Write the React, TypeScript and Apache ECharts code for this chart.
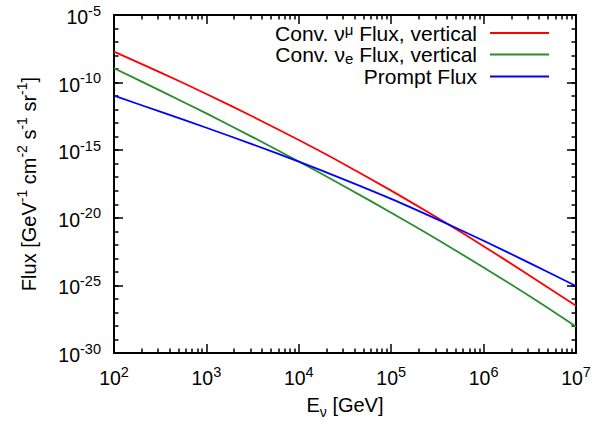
import React, { useEffect, useRef } from 'react';
import * as echarts from 'echarts';

// log10 of neutrino energy [GeV]
const logEnergy = [2, 2.5, 3, 3.5, 4, 4.5, 5, 5.5, 6, 6.5, 7];
// log10 of flux [GeV^-1 cm^-2 s^-1 sr^-1]
const convNuMuLogFlux = [-7.71, -9.24, -10.84, -12.51, -14.25, -16.07, -17.99, -20.0, -22.1, -24.28, -26.5];
const convNuELogFlux = [-8.94, -10.59, -12.28, -14.03, -15.84, -17.7, -19.62, -21.61, -23.67, -25.81, -28.05];
const promptLogFlux = [-10.97, -12.15, -13.34, -14.57, -15.85, -17.19, -18.6, -20.12, -21.7, -23.35, -25.04];

const seriesNames = ['Conv. numu Flux, vertical', 'Conv. nue Flux, vertical', 'Prompt Flux'];
const seriesColors = ['#ff0000', '#2a8b2a', '#0000ff'];

// tick positions
const xMajorExp = [2, 3, 4, 5, 6, 7];
const yMajorExp = [-30, -25, -20, -15, -10, -5];
const xMinorMult = [2, 3, 4, 5, 6, 7, 8, 9];

const FONT = '"Liberation Sans", Arial, Helvetica, sans-serif';

const xMajorTicks = xMajorExp.map((e) => Math.pow(10, e));
const yMajorTicks = yMajorExp.map((e) => Math.pow(10, e));
const xMinorTicks: number[] = [];
for (let e = xMajorExp[0]; e < xMajorExp[xMajorExp.length - 1]; e++) {
  xMinorMult.forEach((m) => xMinorTicks.push(m * Math.pow(10, e)));
}
const yMinorTicks: number[] = [];
for (let e = yMajorExp[0]; e <= yMajorExp[yMajorExp.length - 1]; e++) {
  yMinorTicks.push(Math.pow(10, e));
}

const tickRich = {
  b: { fontSize: 19.5, fontFamily: FONT, color: '#000', lineHeight: 24, verticalAlign: 'bottom' },
  s: { fontSize: 14.5, fontFamily: FONT, color: '#000', lineHeight: 10, verticalAlign: 'top' },
};

const powLabel = (v: number) => {
  const e = Math.round(Math.log10(v));
  return `{b|10}{s|${e}}`;
};

const legendLabels: Record<string, string> = {
  [seriesNames[0]]: '{b|Conv. ν}{m|μ}{b| Flux, vertical}',
  [seriesNames[1]]: '{b|Conv. ν}{e|e}{b| Flux, vertical}',
  [seriesNames[2]]: '{b|Prompt Flux}',
};
const legendTops = [22, 44, 66];

function baseAxis(extra: any) {
  return {
    type: 'log',
    logBase: 10,
    splitLine: { show: false },
    minorTick: { show: false },
    minorSplitLine: { show: false },
    ...extra,
  };
}

function majorAxis(position: string, ticks: number[], extra: any = {}) {
  return baseAxis({
    position,
    axisLine: { show: true, onZero: false, lineStyle: { color: '#000', width: 2 } },
    axisTick: { show: true, inside: true, length: 9, lineStyle: { color: '#000', width: 1.5 }, customValues: ticks },
    axisLabel: { show: false },
    ...extra,
  });
}

function minorAxis(position: string, ticks: number[], extra: any = {}) {
  return baseAxis({
    position,
    axisLine: { show: false, onZero: false },
    axisTick: { show: true, inside: true, length: 4.5, lineStyle: { color: '#000', width: 1.5 }, customValues: ticks },
    axisLabel: { show: false },
    ...extra,
  });
}

const xRange = { min: xMajorTicks[0], max: xMajorTicks[xMajorTicks.length - 1] };
const yRange = { min: yMajorTicks[0], max: yMajorTicks[yMajorTicks.length - 1] };

const legendRich = {
  b: { fontSize: 21, fontFamily: FONT, color: '#000', lineHeight: 22, verticalAlign: 'middle' },
  m: { fontSize: 15, fontFamily: FONT, color: '#000', lineHeight: 15, verticalAlign: 'top' },
  e: { fontSize: 15, fontFamily: FONT, color: '#000', lineHeight: 8, verticalAlign: 'bottom' },
};

const option: any = {
  animation: false,
  backgroundColor: '#fff',
  grid: { left: 114, right: 16, top: 15, bottom: 71, containLabel: false, outerBoundsMode: 'none' },
  legend: seriesNames.map((name, i) => ({
    orient: 'vertical',
    right: 43,
    top: legendTops[i],
    align: 'right',
    padding: 0,
    itemGap: 0,
    itemWidth: 59,
    itemHeight: 2,
    icon: 'rect',
    selectedMode: false,
    data: [name],
    formatter: (n: string) => legendLabels[n],
    textStyle: {
      color: '#000',
      fontFamily: FONT,
      fontSize: 21,
      padding: [0, 8, 0, 0],
      rich: legendRich,
    },
  })),
  xAxis: [
    majorAxis('bottom', xMajorTicks, {
      ...xRange,
      axisLabel: { show: true, margin: 11, customValues: xMajorTicks, formatter: powLabel, rich: tickRich, color: '#000' },
      name: '{b|E}{u|ν}{b| [GeV]}',
      nameLocation: 'middle',
      nameGap: 42,
      nameTextStyle: {
        color: '#000',
        fontFamily: FONT,
        fontSize: 20,
        rich: {
          b: { fontSize: 20, fontFamily: FONT, color: '#000', lineHeight: 24, verticalAlign: 'top' },
          u: { fontSize: 14, fontFamily: FONT, color: '#000', lineHeight: 14, verticalAlign: 'bottom' },
        },
      },
    }),
    majorAxis('top', xMajorTicks, { ...xRange }),
    minorAxis('bottom', xMinorTicks, { ...xRange }),
    minorAxis('top', xMinorTicks, { ...xRange }),
  ],
  yAxis: [
    majorAxis('left', yMajorTicks, {
      ...yRange,
      axisLabel: { show: true, margin: 13, customValues: yMajorTicks, formatter: powLabel, rich: tickRich, color: '#000' },
      name: '{b|Flux [GeV}{s|-1}{b| cm}{s|-2}{b| s}{s|-1}{b| sr}{s|-1}{b|]}',
      nameLocation: 'middle',
      nameRotate: 90,
      nameGap: 75,
      nameTextStyle: {
        color: '#000',
        fontFamily: FONT,
        fontSize: 20,
        rich: {
          b: { fontSize: 20, fontFamily: FONT, color: '#000', lineHeight: 24, verticalAlign: 'bottom' },
          s: { fontSize: 14, fontFamily: FONT, color: '#000', lineHeight: 10, verticalAlign: 'top' },
        },
      },
    }),
    majorAxis('right', yMajorTicks, { ...yRange }),
    minorAxis('left', yMinorTicks, { ...yRange }),
    minorAxis('right', yMinorTicks, { ...yRange }),
  ],
  series: [convNuMuLogFlux, convNuELogFlux, promptLogFlux].map((vals, i) => ({
    type: 'line',
    name: seriesNames[i],
    xAxisIndex: 0,
    yAxisIndex: 0,
    symbol: 'none',
    showSymbol: false,
    smooth: 0.3,
    clip: true,
    color: seriesColors[i],
    lineStyle: { color: seriesColors[i], width: 1.8 },
    data: logEnergy.map((e, j) => [Math.pow(10, e), Math.pow(10, vals[j])]),
  })),
};

export default function App() {
  const ref = useRef<HTMLDivElement>(null);
  useEffect(() => {
    const chart = echarts.init(ref.current as HTMLDivElement, null, { renderer: 'svg' });
    chart.setOption(option);
    return () => chart.dispose();
  }, []);
  return (
    <div
      ref={ref}
      style={{ position: 'fixed', left: 0, top: 0, width: 592, height: 424, background: '#fff' }}
    />
  );
}
